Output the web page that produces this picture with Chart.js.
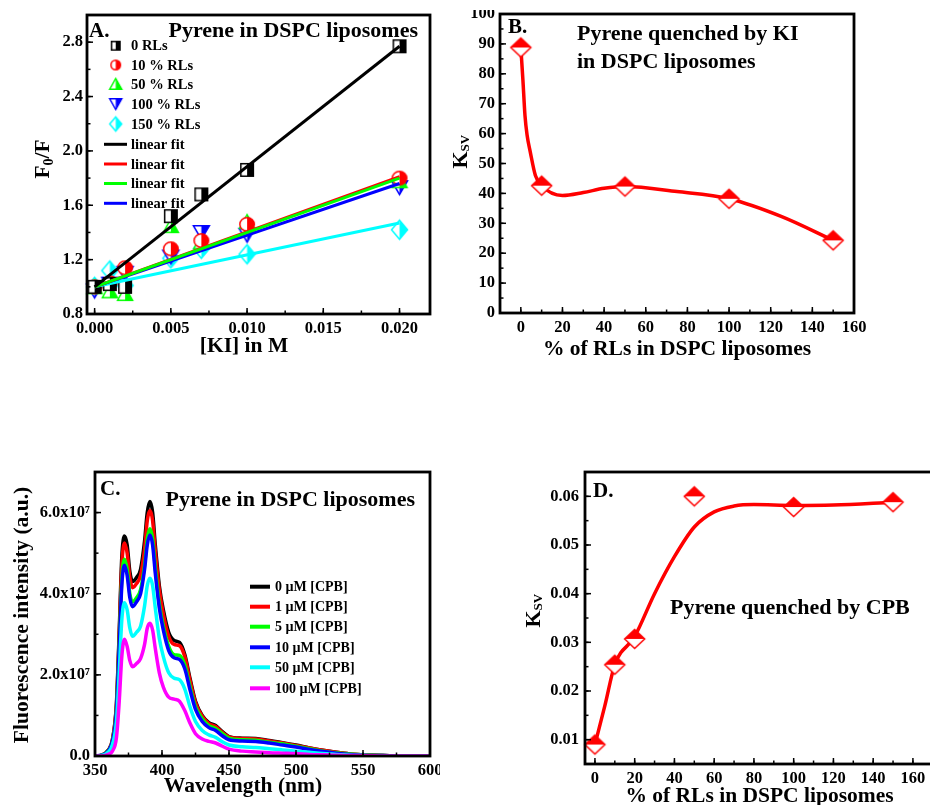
<!DOCTYPE html>
<html><head><meta charset="utf-8">
<script src="https://cdn.jsdelivr.net/npm/chart.js@4.4.0/dist/chart.umd.min.js"></script>
<style>
html,body{margin:0;padding:0;background:#fff;width:930px;height:805px;overflow:hidden;position:relative}
canvas{position:absolute}
</style></head><body>
<canvas id="cA" width="440" height="360" style="left:0px;top:0px"></canvas>
<canvas id="cB" width="440" height="350" style="left:440px;top:10px"></canvas>
<canvas id="cC" width="440" height="365" style="left:0px;top:440px"></canvas>
<canvas id="cD" width="460" height="365" style="left:490px;top:440px"></canvas>
<script>
// ---------------- Panel A data ----------------
const kiConc    = [0, 0.001, 0.002, 0.005, 0.007, 0.010, 0.020];
const f0f_0RL   = [1.00, 1.02, 1.00, 1.52, 1.68, 1.86, 2.77];
const f0f_10RL  = [1.00, 1.03, 1.14, 1.28, 1.34, 1.46, 1.80];
const f0f_50RL  = [1.00, 0.97, 0.95, 1.45, 1.33, 1.48, 1.78];
const f0f_100RL = [0.97, 1.02, 1.10, 1.22, 1.40, 1.38, 1.73];
const f0f_150RL = [1.00, 1.12, 1.01, 1.21, 1.28, 1.24, 1.42];
const fitX      = [0, 0.020];
const fit_0RL   = [1.00, 2.77];
const fit_10RL  = [1.00, 1.81];
const fit_50RL  = [1.00, 1.80];
const fit_100RL = [1.00, 1.76];
const fit_150RL = [1.00, 1.47];
const legendA   = ['0 RLs', '10 % RLs', '50 % RLs', '100 % RLs', '150 % RLs', 'linear fit', 'linear fit', 'linear fit', 'linear fit'];
const xTicksA   = [0, 0.005, 0.010, 0.015, 0.020];
const yTicksA   = [0.8, 1.2, 1.6, 2.0, 2.4, 2.8];

// ---------------- Panel B data ----------------
const rlPercentB = [0, 10, 50, 100, 150];
const ksvKI      = [88.8, 42.6, 42.3, 38.2, 24.3];
const curveXB    = [0, 1, 2, 3, 4.5, 7, 10, 20, 30, 40, 50, 75, 100, 125, 150];
const curveYB    = [88.8, 78, 66, 59.5, 54, 46, 42.6, 39.3, 40.3, 41.7, 42.3, 40.6, 38.2, 32.3, 24.3];
const xTicksB    = [0, 20, 40, 60, 80, 100, 120, 140, 160];
const yTicksB    = [0, 10, 20, 30, 40, 50, 60, 70, 80, 90, 100];

// ---------------- Panel C data (intensity in units of 1e7) ----------------
const wavelengths = [350,355,360,363,366,368,370,372,374,376,378,381,384,387,389,391,393,395,398,401,405,409,413,417,421,425,430,435,440,445,450,460,470,480,490,500,510,520,530,540,550,565,580,600];
const I_0uM   = [0,0.02,0.15,0.40,1.30,3.00,4.90,5.42,5.20,4.55,4.30,4.40,4.60,5.30,6.00,6.27,6.00,5.20,4.20,3.60,3.05,2.85,2.80,2.50,1.90,1.35,1.00,0.82,0.75,0.60,0.48,0.44,0.43,0.38,0.33,0.27,0.20,0.14,0.09,0.05,0.03,0.01,0,0];
const I_1uM   = [0,0.02,0.15,0.40,1.25,2.90,4.70,5.25,5.00,4.40,4.15,4.25,4.45,5.10,5.80,6.05,5.80,5.05,4.10,3.50,2.95,2.75,2.72,2.45,1.85,1.32,0.98,0.80,0.73,0.58,0.47,0.43,0.42,0.37,0.32,0.26,0.20,0.14,0.09,0.05,0.03,0.01,0,0];
const I_5uM   = [0,0.02,0.14,0.37,1.15,2.70,4.35,4.85,4.60,4.00,3.80,3.90,4.10,4.70,5.35,5.60,5.35,4.65,3.75,3.20,2.70,2.50,2.48,2.25,1.70,1.22,0.92,0.75,0.68,0.55,0.44,0.40,0.39,0.34,0.30,0.24,0.18,0.12,0.08,0.05,0.03,0.01,0,0];
const I_10uM  = [0,0.02,0.13,0.36,1.10,2.60,4.20,4.70,4.45,3.90,3.68,3.80,4.00,4.60,5.20,5.45,5.20,4.50,3.65,3.10,2.60,2.42,2.38,2.15,1.62,1.15,0.85,0.70,0.63,0.50,0.40,0.37,0.36,0.32,0.27,0.22,0.16,0.11,0.07,0.04,0.02,0.01,0,0];
const I_50uM  = [0,0.01,0.10,0.28,0.85,2.00,3.35,3.78,3.60,3.15,2.95,3.05,3.20,3.70,4.20,4.38,4.20,3.65,2.90,2.45,2.05,1.92,1.88,1.65,1.20,0.85,0.63,0.52,0.46,0.35,0.27,0.23,0.21,0.18,0.15,0.12,0.09,0.06,0.04,0.02,0.01,0,0,0];
const I_100uM = [0,0.00,0.04,0.12,0.45,1.30,2.45,2.88,2.70,2.35,2.20,2.28,2.40,2.75,3.15,3.27,3.10,2.65,2.05,1.70,1.45,1.40,1.35,1.12,0.80,0.55,0.42,0.36,0.32,0.24,0.17,0.12,0.10,0.08,0.07,0.06,0.04,0.03,0.02,0.01,0.01,0,0,0];
const legendC = ['0 µM [CPB]', '1 µM [CPB]', '5 µM [CPB]', '10 µM [CPB]', '50 µM [CPB]', '100 µM [CPB]'];
const xTicksC = [350, 400, 450, 500, 550, 600];
const yTicksC = [0, 2e7, 4e7, 6e7];

// ---------------- Panel D data ----------------
const rlPercentD = [0, 10, 20, 50, 100, 150];
const ksvCPB     = [0.0090, 0.0254, 0.0307, 0.0600, 0.0578, 0.0588];
const curveXD    = [0, 5, 10, 20, 30, 40, 50, 60, 70, 80, 100, 120, 150];
const curveYD    = [0.0090, 0.0170, 0.0254, 0.0312, 0.0400, 0.0476, 0.0537, 0.0568, 0.0580, 0.0583, 0.0581, 0.0582, 0.0588];
const xTicksD    = [0, 20, 40, 60, 80, 100, 120, 140, 160];
const yTicksD    = [0.01, 0.02, 0.03, 0.04, 0.05, 0.06];

// ---------------- helpers ----------------
const SERIF = '"Liberation Serif", "Times New Roman", serif';
const font = (s) => 'bold ' + s + 'px ' + SERIF;
const toXY = (xs, ys, k) => xs.map((x, i) => ({ x: x, y: ys[i] * (k || 1) }));

function makeMarker(shape, color, w, h, half) {
  const pad = 2;
  const c = document.createElement('canvas');
  c.width = Math.ceil(w + pad * 2); c.height = Math.ceil(h + pad * 2);
  const g = c.getContext('2d');
  g.translate(pad, pad);
  const path = () => {
    g.beginPath();
    if (shape === 'square') g.rect(0.75, 0.75, w - 1.5, h - 1.5);
    else if (shape === 'circle') g.ellipse(w / 2, h / 2, w / 2 - 0.75, h / 2 - 0.75, 0, 0, Math.PI * 2);
    else if (shape === 'tri') { g.moveTo(w / 2, 0.5); g.lineTo(w - 0.5, h - 0.75); g.lineTo(0.5, h - 0.75); }
    else if (shape === 'itri') { g.moveTo(0.5, 0.75); g.lineTo(w - 0.5, 0.75); g.lineTo(w / 2, h - 0.5); }
    else if (shape === 'diamond') { g.moveTo(w / 2, 0.5); g.lineTo(w - 0.5, h / 2); g.lineTo(w / 2, h - 0.5); g.lineTo(0.5, h / 2); }
    g.closePath();
  };
  path(); g.fillStyle = '#fff'; g.fill();
  g.save(); path(); g.clip();
  g.fillStyle = color;
  if (half === 'right') g.fillRect(w / 2, 0, w / 2 + 1, h); else g.fillRect(0, 0, w, h / 2);
  g.restore();
  path(); g.lineWidth = 1.5; g.strokeStyle = color; g.stroke();
  return c;
}

function linScale(min, max, ticksArr, fmt, pad, isX, size) {
  return {
    type: 'linear', min: min, max: max,
    grid: { display: false, drawTicks: false },
    border: { display: false },
    ticks: { color: '#000', font: { family: SERIF, size: 16.5, weight: 'bold' }, padding: pad,
             callback: fmt, maxRotation: 0, minRotation: 0, autoSkip: false, includeBounds: false },
    afterBuildTicks: (s) => { s.ticks = ticksArr.map(v => ({ value: v })); },
    afterFit: (s) => {
      if (isX) s.height = size; else s.width = size;
      s.paddingLeft = 0; s.paddingRight = 0; s.paddingTop = 0; s.paddingBottom = 0;
    }
  };
}

function drawRich(ctx, segs, x, y, rotate, align) {
  ctx.save();
  ctx.translate(x, y);
  if (rotate) ctx.rotate(-Math.PI / 2);
  let total = 0;
  segs.forEach(s => { ctx.font = font(s.size); s.w = ctx.measureText(s.t).width; total += s.w; });
  let cx = align === 'center' ? -total / 2 : (align === 'right' ? -total : 0);
  ctx.textAlign = 'left'; ctx.textBaseline = 'alphabetic'; ctx.fillStyle = '#000';
  segs.forEach(s => { ctx.font = font(s.size); ctx.fillText(s.t, cx, s.dy || 0); cx += s.w; });
  ctx.restore();
}

// frame + inward ticks + annotations
function decoPlugin(cfg) {
  return {
    id: 'deco',
    afterDraw(chart) {
      const ctx = chart.ctx, a = chart.chartArea, xs = chart.scales.x, ys = chart.scales.y;
      ctx.save();
      ctx.strokeStyle = '#000';
      ctx.lineWidth = 1.5;
      const tick = (vals, len, isX) => {
        vals.forEach(v => {
          ctx.beginPath();
          if (isX) { const p = xs.getPixelForValue(v); ctx.moveTo(p, a.bottom); ctx.lineTo(p, a.bottom - len); }
          else { const p = ys.getPixelForValue(v); ctx.moveTo(a.left, p); ctx.lineTo(a.left + len, p); }
          ctx.stroke();
        });
      };
      const minor = (min, max, step) => { const r = []; const n0 = Math.ceil(min / step - 1e-9), n1 = Math.floor(max / step + 1e-9); for (let n = n0; n <= n1; n++) r.push(n * step); return r; };
      tick(minor(xs.min, xs.max, cfg.xMinor), 3.5, true);
      tick(minor(ys.min, ys.max, cfg.yMinor), 3.5, false);
      tick(cfg.xTicks, 6, true);
      tick(cfg.yTicks, 6, false);
      ctx.lineWidth = 2.8;
      ctx.strokeRect(a.left, a.top, a.right - a.left, a.bottom - a.top);
      ctx.restore();
      cfg.texts.forEach(t => drawRich(ctx, t.segs, t.x, t.y, t.rot, t.align));
      if (cfg.extra) cfg.extra(ctx);
    }
  };
}

const baseOpts = (pad, scales) => ({
  responsive: false, animation: false, devicePixelRatio: 1, events: [],
  layout: { padding: pad, autoPadding: false },
  plugins: { legend: { display: false }, tooltip: { enabled: false } },
  scales: scales
});

// ---------------- Panel A ----------------
const mkA = {
  sq:  makeMarker('square', '#000000', 14, 14, 'right'),
  ci:  makeMarker('circle', '#ff0000', 16, 15, 'right'),
  tr:  makeMarker('tri', '#00ff00', 16, 15, 'right'),
  it:  makeMarker('itri', '#0000ff', 17, 15, 'right'),
  di:  makeMarker('diamond', '#00ffff', 17, 20, 'right')
};
const mkAL = [
  makeMarker('square', '#000000', 10, 10, 'right'),
  makeMarker('circle', '#ff0000', 11, 11, 'right'),
  makeMarker('tri', '#00ff00', 13, 12, 'right'),
  makeMarker('itri', '#0000ff', 13, 12, 'right'),
  makeMarker('diamond', '#00ffff', 13, 15, 'right')
];
const lineColsA = ['#000000', '#ff0000', '#00ff00', '#0000ff'];
const ptDS = (xs, ys, img, ord) => ({ data: toXY(xs, ys), showLine: false, pointStyle: img, pointRadius: 8, clip: false, order: ord });
const lnDS = (xs, ys, col, ord, w, extra) => Object.assign({ data: toXY(xs, ys), borderColor: col, borderWidth: w || 3, pointRadius: 0, fill: false, order: ord, borderCapStyle: 'butt' }, extra || {});

new Chart(document.getElementById('cA'), {
  type: 'line',
  data: { datasets: [
    lnDS(fitX, fit_150RL, '#00ffff', 5),
    lnDS(fitX, fit_100RL, '#0000ff', 4),
    lnDS(fitX, fit_10RL, '#ff0000', 3),
    lnDS(fitX, fit_50RL, '#00ff00', 2),
    lnDS(fitX, fit_0RL, '#000000', 1),
    ptDS(kiConc, f0f_0RL, mkA.sq, 10),
    ptDS(kiConc, f0f_10RL, mkA.ci, 11),
    ptDS(kiConc, f0f_50RL, mkA.tr, 12),
    ptDS(kiConc, f0f_100RL, mkA.it, 13),
    ptDS(kiConc, f0f_150RL, mkA.di, 14)
  ] },
  options: baseOpts({ left: 0, right: 10, top: 15, bottom: 0 }, {
    x: linScale(-0.0005, 0.022, xTicksA, v => v.toFixed(3), 5, true, 46),
    y: linScale(0.8, 3.0, yTicksA, v => v.toFixed(1), 4, false, 87)
  }),
  plugins: [decoPlugin({
    xTicks: xTicksA, yTicks: yTicksA, xMinor: 0.0025, yMinor: 0.2,
    texts: [
      { segs: [{ t: 'A.', size: 21 }], x: 89, y: 37 },
      { segs: [{ t: 'Pyrene in DSPC liposomes', size: 22 }], x: 418, y: 37, align: 'right' },
      { segs: [{ t: 'F', size: 21.5 }, { t: '0', size: 14, dy: 4 }, { t: '/F', size: 21.5 }], x: 49, y: 159, rot: true, align: 'center' },
      { segs: [{ t: '[KI] in M', size: 21.5 }], x: 244, y: 352, align: 'center' }
    ],
    extra: (ctx) => {
      const rows = [45.7, 65, 84, 104, 124, 144.3, 164, 183.5, 203.3];
      ctx.save();
      ctx.font = font(14.5); ctx.fillStyle = '#000'; ctx.textBaseline = 'middle'; ctx.textAlign = 'left';
      legendA.forEach((lab, i) => {
        const y = rows[i];
        if (i < 5) { const m = mkAL[i]; ctx.drawImage(m, 115.7 - m.width / 2, y - m.height / 2); }
        else { ctx.strokeStyle = lineColsA[i - 5]; ctx.lineWidth = 3; ctx.beginPath(); ctx.moveTo(104, y); ctx.lineTo(127, y); ctx.stroke(); }
        ctx.fillText(lab, 131, y + 1);
      });
      ctx.restore();
    }
  })]
});

// ---------------- Panel B ----------------
const mkBD = makeMarker('diamond', '#ff0000', 21, 20, 'top');
new Chart(document.getElementById('cB'), {
  type: 'line',
  data: { datasets: [
    ptDS(rlPercentB, ksvKI, mkBD, 1),
    lnDS(curveXB, curveYB, '#ff0000', 2, 3.5, { cubicInterpolationMode: 'monotone', borderJoinStyle: 'round' })
  ] },
  options: baseOpts({ left: 0, right: 26, top: 4, bottom: 0 }, {
    x: linScale(-10, 160, xTicksB, v => String(v), 5, true, 47),
    y: linScale(0, 100, yTicksB, v => String(v), 5, false, 60)
  }),
  plugins: [decoPlugin({
    xTicks: xTicksB, yTicks: yTicksB, xMinor: 10, yMinor: 5,
    texts: [
      { segs: [{ t: 'B.', size: 21 }], x: 68, y: 23 },
      { segs: [{ t: 'Pyrene quenched by KI', size: 22 }], x: 137, y: 30 },
      { segs: [{ t: 'in DSPC liposomes', size: 22 }], x: 137, y: 57.7 },
      { segs: [{ t: 'K', size: 22 }, { t: 'SV', size: 13, dy: 2 }], x: 27, y: 141.7, rot: true, align: 'center' },
      { segs: [{ t: '% of RLs in DSPC liposomes', size: 21.5 }], x: 237, y: 345, align: 'center' }
    ]
  })]
});

// ---------------- Panel C ----------------
const specCols = ['#000000', '#ff0000', '#00ff00', '#0000ff', '#00ffff', '#ff00ff'];
const specData = [I_0uM, I_1uM, I_5uM, I_10uM, I_50uM, I_100uM];
new Chart(document.getElementById('cC'), {
  type: 'line',
  data: { datasets: specData.map((arr, i) => lnDS(wavelengths, arr.map(v => v * 1e7), specCols[i], 10 - i, 3.5,
    { cubicInterpolationMode: 'monotone', borderJoinStyle: 'round' })) },
  options: baseOpts({ left: 0, right: 10, top: 32, bottom: 0 }, {
    x: linScale(350, 600, xTicksC, v => String(v), 5, true, 49),
    y: linScale(0, 7e7, yTicksC, v => v === 0 ? '0.0' : (v / 1e7).toFixed(1) + 'x10\u2077', 5, false, 95)
  }),
  plugins: [decoPlugin({
    xTicks: xTicksC, yTicks: yTicksC, xMinor: 25, yMinor: 1e7,
    texts: [
      { segs: [{ t: 'C.', size: 21 }], x: 100, y: 55 },
      { segs: [{ t: 'Pyrene in DSPC liposomes', size: 22 }], x: 415, y: 65.7, align: 'right' },
      { segs: [{ t: 'Fluorescence intensity (a.u.)', size: 21.5 }], x: 28, y: 175, rot: true, align: 'center' },
      { segs: [{ t: 'Wavelength (nm)', size: 21.5 }], x: 243, y: 352, align: 'center' }
    ],
    extra: (ctx) => {
      const rows = [146.7, 166.7, 186.7, 207.3, 227.3, 248.3];
      ctx.save();
      ctx.font = font(14); ctx.fillStyle = '#000'; ctx.textBaseline = 'middle'; ctx.textAlign = 'left';
      legendC.forEach((lab, i) => {
        const y = rows[i];
        ctx.strokeStyle = specCols[i]; ctx.lineWidth = 4; ctx.beginPath(); ctx.moveTo(250, y); ctx.lineTo(270, y); ctx.stroke();
        ctx.fillText(lab, 275, y + 1);
      });
      ctx.restore();
    }
  })]
});

// ---------------- Panel D ----------------
new Chart(document.getElementById('cD'), {
  type: 'line',
  data: { datasets: [
    ptDS(rlPercentD, ksvCPB, mkBD, 1),
    lnDS(curveXD, curveYD, '#ff0000', 2, 3.5, { cubicInterpolationMode: 'monotone', borderJoinStyle: 'round' })
  ] },
  options: baseOpts({ left: 0, right: 17.2, top: 32, bottom: 0 }, {
    x: linScale(-5, 170, xTicksD, v => String(v), 5, true, 41),
    y: linScale(0.005, 0.065, yTicksD, v => v.toFixed(2), 6, false, 95)
  }),
  plugins: [decoPlugin({
    xTicks: xTicksD, yTicks: yTicksD, xMinor: 10, yMinor: 0.005,
    texts: [
      { segs: [{ t: 'D.', size: 21 }], x: 103, y: 56.7 },
      { segs: [{ t: 'Pyrene quenched by CPB', size: 22 }], x: 180, y: 174 },
      { segs: [{ t: 'K', size: 22 }, { t: 'SV', size: 13, dy: 2 }], x: 50, y: 170.7, rot: true, align: 'center' },
      { segs: [{ t: '% of RLs in DSPC liposomes', size: 21.5 }], x: 269.5, y: 362, align: 'center' }
    ]
  })]
});
</script>
</body></html>
